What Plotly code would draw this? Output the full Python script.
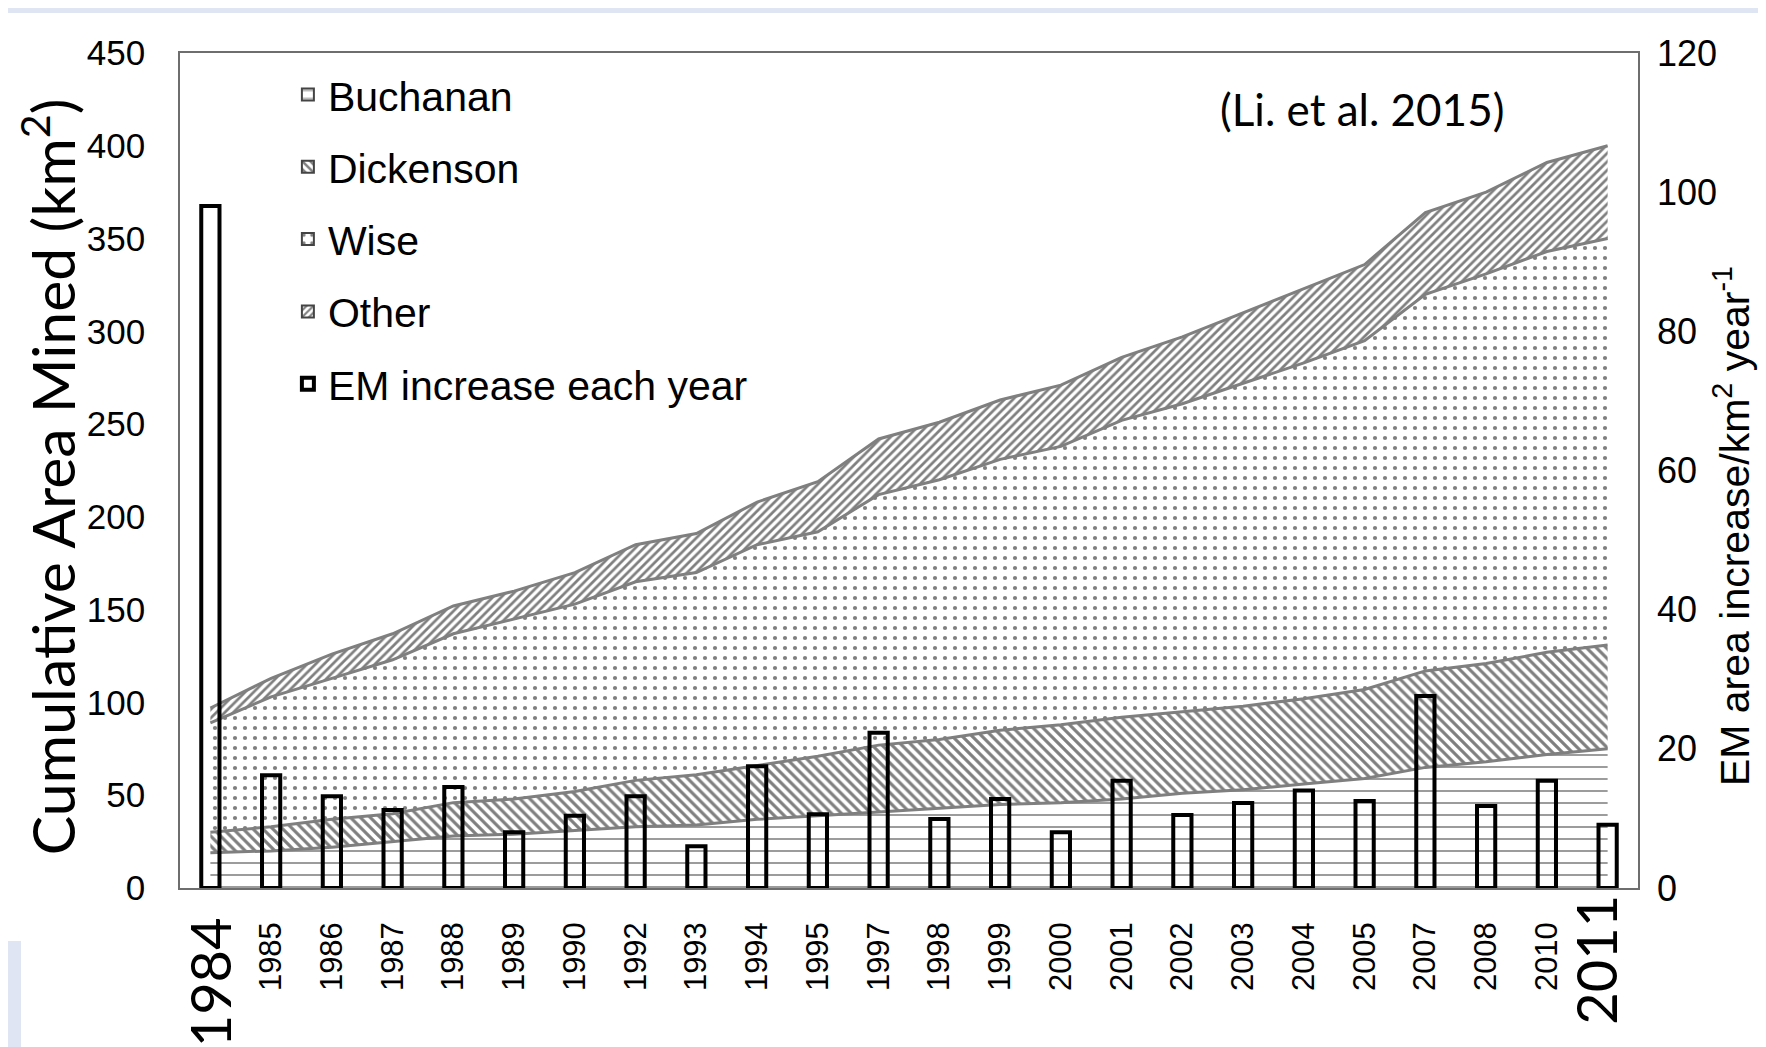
import plotly.graph_objects as go

years = ["1984", "1985", "1986", "1987", "1988", "1989", "1990", "1992", "1993", "1994",
         "1995", "1997", "1998", "1999", "2000", "2001", "2002", "2003", "2004", "2005",
         "2007", "2008", "2010", "2011"]
big_years = ["1984", "2011"]

# area mined by county (km2), stacked in this order
buchanan = [19, 20, 22, 25, 28, 29, 31, 33, 34, 37, 39, 41, 43, 45, 46, 48, 51, 53, 56, 59, 65, 68, 72, 75]
dickenson = [11, 13, 15, 15, 18, 19, 21, 25, 27, 29, 32, 36, 37, 40, 42, 44, 44, 45, 46, 48, 52, 53, 55, 56]
wise = [59, 70, 76, 83, 91, 97, 101, 107, 109, 119, 121, 135, 140, 146, 150, 160, 166, 174, 181, 188, 203, 210, 216, 219]
other = [8, 10, 13, 14, 15, 15, 17, 20, 21, 23, 27, 30, 31, 32, 33, 34, 36, 38, 40, 41, 44, 44, 48, 50]

# EM area increase each year (km2/year), right axis
em_increase = [98, 16.2, 13.2, 11.2, 14.5, 8.0, 10.4, 13.2, 6.0, 17.5, 10.6, 22.3, 9.9, 12.8,
               8.0, 15.4, 10.5, 12.2, 14.0, 12.5, 27.6, 11.8, 15.4, 9.1]

left_ticks = [0, 50, 100, 150, 200, 250, 300, 350, 400, 450]
right_ticks = [0, 20, 40, 60, 80, 100, 120]

NARROW = "Liberation Sans Narrow, Arial Narrow, Liberation Sans, Arial"
ARIAL = "Liberation Sans, Arial"
CALIBRI = "Lato, Open Sans, sans-serif"
EDGE = "#7f7f7f"

series = [
    ("Buchanan", buchanan, dict(shape="-", size=12, solidity=0.17, fgcolor="#3a3a3a", bgcolor="white")),
    ("Dickenson", dickenson, dict(shape="\\", size=7, solidity=0.45, fgcolor="black", bgcolor="white")),
    ("Wise", wise, dict(shape=".", size=10, solidity=0.14, fgcolor="black", bgcolor="white")),
    ("Other", other, dict(shape="/", size=6, solidity=0.45, fgcolor="black", bgcolor="white")),
]

fig = go.Figure()
for name, vals, pat in series:
    fig.add_trace(go.Scatter(
        x=years, y=vals, name=name, mode="lines", stackgroup="one",
        line=dict(color=EDGE, width=3), fillcolor="white", fillpattern=pat,
        showlegend=False, hoverinfo="x+y+name",
    ))

# legend-only swatches (square patterned boxes as in the original legend)
for name, vals, pat in series:
    fig.add_trace(go.Bar(
        x=[None], y=[None], name=name, legendgroup=name,
        marker=dict(color="white", pattern=pat, line=dict(color="#444444", width=2)),
        showlegend=True,
    ))

fig.add_trace(go.Bar(
    x=years, y=em_increase, name="EM increase each year", yaxis="y2", width=0.3,
    marker=dict(color="rgba(0,0,0,0)", line=dict(color="black", width=4)),
    legendgroup="em",
))

tick_text = ["" if y in big_years else y for y in years]

annotations = [
    dict(text="(Li. et al. 2015)", xref="paper", yref="paper", x=0.811, y=0.933,
         xanchor="center", yanchor="middle", showarrow=False,
         font=dict(family=CALIBRI, size=44, color="black")),
    dict(text="Cumulative Area Mined (km<sup>2</sup>)", xref="paper", yref="paper",
         x=-0.0905, y=0.492, xanchor="center", yanchor="middle", textangle=-90,
         showarrow=False, font=dict(family=CALIBRI, size=59, color="black")),
    dict(text="EM area increase/km<sup>2</sup> year<sup>-1</sup>", xref="paper", yref="paper",
         x=1.0645, y=0.4335, xanchor="center", yanchor="middle", textangle=-90,
         showarrow=False, font=dict(family=ARIAL, size=41, color="black")),
]
for yr, ytop, xs in zip(big_years, [-0.0323, -0.006], [0, -13]):
    annotations.append(dict(text=yr, xref="x", yref="paper", x=years.index(yr), y=ytop,
                            xanchor="center", yanchor="top", textangle=-90, showarrow=False,
                            xshift=xs, font=dict(family=CALIBRI, size=56, color="black")))

fig.update_layout(
    width=1766, height=1047,
    margin=dict(l=172, r=136, t=45, b=167, autoexpand=False),
    paper_bgcolor="white", plot_bgcolor="white",
    showlegend=True,
    legend=dict(x=0.074, y=0.99, xanchor="left", yanchor="top",
                traceorder="grouped", tracegroupgap=16,
                font=dict(family=NARROW, size=41, color="black"),
                bgcolor="rgba(0,0,0,0)", itemwidth=30),
    xaxis=dict(type="category", categoryorder="array", categoryarray=years,
               range=[-0.5, len(years) - 0.5],
               tickmode="array", tickvals=years, ticktext=tick_text, tickangle=-90,
               tickfont=dict(family=ARIAL, size=31, color="black"),
               ticks="", ticklabelstandoff=20,
               showline=True, mirror=True, linecolor="#6e6e6e", linewidth=1.5,
               showgrid=False, zeroline=False),
    yaxis=dict(range=[0, 450], tickmode="array", tickvals=left_ticks,
               tickfont=dict(family=NARROW, size=35, color="black"),
               ticks="", ticklabelstandoff=26,
               showline=True, mirror=True, linecolor="#6e6e6e", linewidth=1.5,
               showgrid=False, zeroline=False),
    yaxis2=dict(range=[0, 120], tickmode="array", tickvals=right_ticks, overlaying="y",
                side="right", tickfont=dict(family=ARIAL, size=36, color="black"),
                ticks="", ticklabelstandoff=18, showline=False,
                showgrid=False, zeroline=False),
    barmode="overlay",
    annotations=annotations,
    shapes=[
        dict(type="rect", xref="paper", yref="paper", x0=(1751 - 172) / 1458, x1=(1766 - 172) / 1458,
             y0=1 - (1047 - 45) / 835, y1=1 + 45 / 835, fillcolor="#dfe5f2", line=dict(width=0), layer="below"),
        dict(type="rect", xref="paper", yref="paper", x0=-172 / 1458, x1=(1766 - 172) / 1458,
             y0=1 + 40 / 835, y1=1 + 45 / 835, fillcolor="#dfe5f2", line=dict(width=0), layer="below"),
        dict(type="rect", xref="paper", yref="paper", x0=-172 / 1458, x1=-159 / 1458,
             y0=1 - (1047 - 45) / 835, y1=1 - (933 - 45) / 835, fillcolor="#dfe5f2",
             line=dict(width=0), layer="below"),
    ],
)

fig.write_html("out.html")
